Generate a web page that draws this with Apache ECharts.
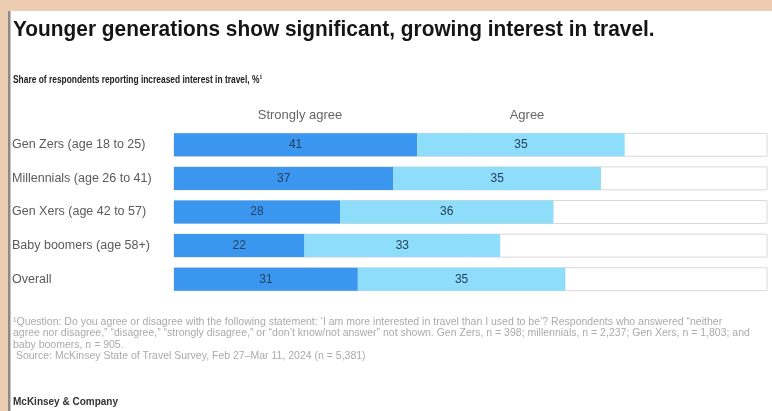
<!DOCTYPE html>
<html>
<head>
<meta charset="utf-8">
<script src="https://cdn.jsdelivr.net/npm/echarts@6/dist/echarts.min.js"></script>
<style>
html,body{margin:0;padding:0;background:#EDCDB1;}
#c{position:absolute;left:0;top:0;width:772px;height:411px;}
</style>
</head>
<body>
<div id="c"></div>
<script>
const categories = ["Gen Zers (age 18 to 25)", "Millennials (age 26 to 41)", "Gen Xers (age 42 to 57)", "Baby boomers (age 58+)", "Overall"];
const stronglyAgree = [41, 37, 28, 22, 31];
const agree = [35, 35, 36, 33, 35];
const seriesNames = ["Strongly agree", "Agree"];
const titleText = "Younger generations show significant, growing interest in travel.";
const subtitleText = "Share of respondents reporting increased interest in travel, %\u00B9";
const noteLines = [
  "\u00B9Question: Do you agree or disagree with the following statement: \u2018I am more interested in travel than I used to be\u2019? Respondents who answered \u201Cneither",
  "agree nor disagree,\u201D \u201Cdisagree,\u201D \u201Cstrongly disagree,\u201D or \u201Cdon\u2019t know/not answer\u201D not shown. Gen Zers, n = 398; millennials, n = 2,237; Gen Xers, n = 1,803; and",
  "baby boomers, n = 905.",
  " Source: McKinsey State of Travel Survey, Feb 27\u2013Mar 11, 2024 (n = 5,381)"
];
const brand = "McKinsey & Company";

const chart = echarts.init(document.getElementById('c'), null, {renderer: 'canvas'});
const font = 'Liberation Sans, Arial, sans-serif';
const labelStyle = {show: true, position: 'inside', color: '#24425e', fontSize: 12, fontFamily: font};

const graphics = [
  {type: 'rect', shape: {x: 8, y: 11, width: 764, height: 400}, style: {fill: '#ffffff'}, z: -10},
  {type: 'rect', shape: {x: 8, y: 11, width: 2.5, height: 400}, style: {fill: '#8a8a8a'}, z: -9},
  {type: 'text', x: 13, y: 30, scaleX: 0.97, style: {text: titleText, x: 0, y: 0, verticalAlign: 'middle', font: 'bold 21.5px ' + font, fill: '#151515'}},
  {type: 'text', x: 13, y: 80, scaleX: 0.8, style: {text: subtitleText, x: 0, y: 0, verticalAlign: 'middle', font: 'bold 10.5px ' + font, fill: '#222'}},
  {type: 'text', style: {text: seriesNames[0], x: 300, y: 115, align: 'center', verticalAlign: 'middle', font: '13px ' + font, fill: '#666'}},
  {type: 'text', style: {text: seriesNames[1], x: 527, y: 115, align: 'center', verticalAlign: 'middle', font: '13px ' + font, fill: '#666'}},
  {type: 'text', style: {text: brand, x: 13, y: 402, verticalAlign: 'middle', font: 'bold 10px ' + font, fill: '#333'}}
];
noteLines.forEach((t, i) => {
  graphics.push({type: 'text', style: {text: t, x: 13, y: 322 + i * 11.5, verticalAlign: 'middle', font: '10.5px ' + font, fill: '#aaaaaa'}});
});

chart.setOption({
  animation: false,
  backgroundColor: 'transparent',
  grid: {left: 174, right: 5, top: 128, height: 168, containLabel: false},
  xAxis: {type: 'value', min: 0, max: 100, show: false},
  yAxis: {
    type: 'category', data: categories, inverse: true,
    axisLine: {show: false}, axisTick: {show: false},
    axisLabel: {align: 'left', margin: 162, color: '#5a5a5a', fontSize: 12.5, fontFamily: font}
  },
  series: [
    {name: seriesNames[0], type: 'bar', stack: 's', data: stronglyAgree, barWidth: 23,
     itemStyle: {color: '#3A96EE'}, label: labelStyle,
     showBackground: true, backgroundStyle: {color: '#ffffff', borderColor: '#d9d9d9', borderWidth: 1}},
    {name: seriesNames[1], type: 'bar', stack: 's', data: agree, barWidth: 23,
     itemStyle: {color: '#8EDDFA'}, label: labelStyle}
  ],
  graphic: graphics
});
</script>
</body>
</html>
